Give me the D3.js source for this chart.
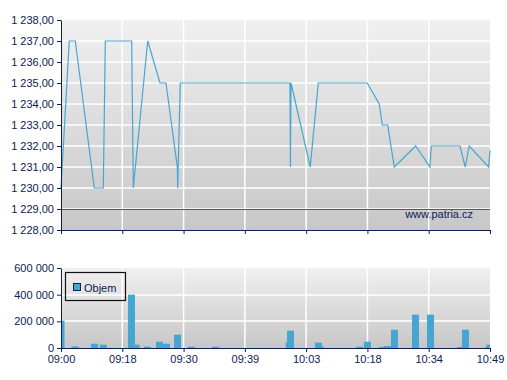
<!DOCTYPE html>
<html>
<head>
<meta charset="utf-8">
<script src="https://cdn.jsdelivr.net/npm/d3@7"></script>
<style>
	body { margin: 0; background: #fff; }
	text { font-family: "Liberation Sans", Arial, sans-serif; font-size: 11px; fill: #0c2152; }
	.axis path, .axis line { stroke: #0c2152; }
</style>
</head>
<body>
<div class="svg-container"></div>
<script>
// positions on the x axis are in tick slots (0 = first label, 7 = last label)
var tickLabels = ["09:00", "09:18", "09:30", "09:39", "10:03", "10:18", "10:34", "10:49"];

var pricePos = [0, 0.135, 0.233, 0.543, 0.69, 0.723, 1.153, 1.18, 1.415, 1.615, 1.713, 1.898, 1.904, 1.946,
	3.736, 3.744, 3.753, 4.067, 4.198, 4.997, 5.193, 5.242, 5.33, 5.438, 5.787, 6.02, 6.042, 6.51, 6.596, 6.661, 6.978, 7.0];
var priceVal = [1230, 1237, 1237, 1230, 1230, 1237, 1237, 1230, 1237, 1235, 1235, 1231, 1230, 1235,
	1235, 1231, 1235, 1231, 1235, 1235, 1234, 1233, 1233, 1231, 1232, 1231, 1232, 1232, 1231, 1232, 1231, 1231.8];

var volPos = [0, 0.228, 0.547, 0.69, 1.224, 1.15, 1.411, 1.607, 1.721, 1.901, 2.129, 2.521,
	3.723, 3.745, 4.201, 4.233, 4.87, 5.0, 5.245, 5.327, 5.441, 5.784, 6.029, 6.518, 6.6, 6.975, 7.0];
var volVal = [205000, 12000, 32000, 25000, 25000, 400000, 10000, 47000, 32000, 100000, 10000, 10000,
	40000, 130000, 40000, 10000, 10000, 47000, 8000, 15000, 137000, 250000, 250000, 8000, 137000, 8000, 25000];

var priceTicks = [1228, 1229, 1230, 1231, 1232, 1233, 1234, 1235, 1236, 1237, 1238];
var volTicks = [0, 200000, 400000, 600000];
var refLevel = 1229;

var pageWidth = 507,
	pageHeight = 380,
	left = 61,
	right = 490,
	top1 = 20, bottom1 = 230,		// price panel
	top2 = 268, bottom2 = 348,		// volume panel
	lineColor = "#47a6d1",
	barWidth = 7;

var locale = d3.formatLocale({decimal: ",", thousands: " ", grouping: [3], currency: ["", ""]});

function plot() {
	var svg = d3.select(".svg-container")
	.append("svg")
	.attr("width", pageWidth)
	.attr("height", pageHeight);

	var defs = svg.append("defs");
	var grad = defs.append("linearGradient")
	.attr("id", "bg")
	.attr("x1", 0).attr("y1", 0).attr("x2", 0).attr("y2", 1);
	grad.append("stop").attr("offset", "0%").attr("stop-color", "#f0f0f0");
	grad.append("stop").attr("offset", "100%").attr("stop-color", "#c7c7c7");

	defs.append("clipPath").attr("id", "clip2")
	.append("rect")
	.attr("x", left).attr("y", top2)
	.attr("width", right - left).attr("height", bottom2 - top2);

	var xScale = d3.scaleLinear().domain([0, 7]).range([left, right]);
	var yPrice = d3.scaleLinear().domain([1228, 1238]).range([bottom1, top1]);
	var yVol = d3.scaleLinear().domain([0, 600000]).range([bottom2, top2]);

	drawPanel(svg, xScale, yPrice, priceTicks, top1, bottom1);
	drawPanel(svg, xScale, yVol, volTicks, top2, bottom2);

	// reference line, snapped to the pixel grid so it stays crisp
	var refY = Math.round(yPrice(refLevel)) + 0.5;
	svg.append("line")
	.attr("x1", left).attr("x2", right)
	.attr("y1", refY).attr("y2", refY)
	.attr("stroke", "#e01e1e")
	.attr("stroke-width", 1)
	.attr("shape-rendering", "crispEdges");

	drawLine(svg, xScale, yPrice);
	drawBars(svg, xScale, yVol);

	// axes
	var yAxis1 = d3.axisLeft(yPrice).tickValues(priceTicks).tickSize(4).tickSizeOuter(0)
	.tickFormat(locale.format(",.2f"));
	svg.append("g").attr("class", "axis").attr("transform", "translate(" + left + ",0)").call(yAxis1);

	var xAxis1 = d3.axisBottom(xScale).tickValues(d3.range(8)).tickSize(4).tickSizeOuter(0).tickFormat("");
	svg.append("g").attr("class", "axis").attr("transform", "translate(0," + bottom1 + ")").call(xAxis1);

	var yAxis2 = d3.axisLeft(yVol).tickValues(volTicks).tickSize(4).tickSizeOuter(0)
	.tickFormat(locale.format(",.0f"));
	svg.append("g").attr("class", "axis").attr("transform", "translate(" + left + ",0)").call(yAxis2);

	var xAxis2 = d3.axisBottom(xScale).tickValues(d3.range(8)).tickSize(4).tickSizeOuter(0)
	.tickFormat(function(d) { return tickLabels[d]; });
	svg.append("g").attr("class", "axis").attr("transform", "translate(0," + bottom2 + ")").call(xAxis2);

	svg.selectAll(".axis text").style("font-size", "11px").attr("fill", "#0c2152");
	svg.selectAll(".axis").attr("font-family", null).attr("font-size", null);

	// watermark
	svg.append("text")
	.attr("x", 473).attr("y", 218)
	.attr("text-anchor", "end")
	.text("www.patria.cz");

	// legend
	svg.append("rect")
	.attr("x", 65.5).attr("y", 272.5)
	.attr("width", 60).attr("height", 28)
	.attr("fill", "none")
	.attr("stroke", "#111")
	.attr("stroke-width", 1.2);
	svg.append("rect")
	.attr("x", 73.5).attr("y", 283.5)
	.attr("width", 7).attr("height", 7)
	.attr("fill", lineColor)
	.attr("stroke", "#0c2152");
	svg.append("text")
	.attr("x", 84).attr("y", 292)
	.text("Objem");
}

function drawPanel(svg, x, y, ticks, top, bottom) {
	svg.append("rect")
	.attr("x", left).attr("y", top)
	.attr("width", right - left).attr("height", bottom - top)
	.attr("fill", "url(#bg)");

	svg.append("g").selectAll("line").data(ticks.slice(1, -1))
	.enter().append("line")
	.attr("x1", left).attr("x2", right)
	.attr("y1", function(d) { return Math.round(y(d)); })
	.attr("y2", function(d) { return Math.round(y(d)); })
	.attr("stroke", "#fff")
	.attr("stroke-width", 1.5);

	svg.append("g").selectAll("line").data(d3.range(1, 7))
	.enter().append("line")
	.attr("x1", function(d) { return x(d); })
	.attr("x2", function(d) { return x(d); })
	.attr("y1", top).attr("y2", bottom)
	.attr("stroke", "#fff")
	.attr("stroke-width", 1.5);
}

function drawLine(svg, x, y) {
	var data = pricePos.map(function(p, i) { return {pos: p, val: priceVal[i]}; });

	var line = d3.line()
	.x(function(d) { return x(d.pos); })
	.y(function(d) { return y(d.val); });

	svg.append("path")
	.datum(data)
	.attr("fill", "none")
	.attr("stroke", lineColor)
	.attr("stroke-width", 1.2)
	.attr("d", line);
}

function drawBars(svg, x, y) {
	var data = volPos.map(function(p, i) { return {pos: p, val: volVal[i]}; });
	// taller bars drawn last so they sit in front
	data.sort(function(a, b) { return a.val - b.val; });

	svg.append("g")
	.attr("clip-path", "url(#clip2)")
	.selectAll("rect").data(data)
	.enter().append("rect")
	.attr("x", function(d) { return x(d.pos) - barWidth / 2; })
	.attr("y", function(d) { return y(d.val); })
	.attr("width", barWidth)
	.attr("height", function(d) { return y(0) - y(d.val); })
	.attr("fill", lineColor);
}

plot();
</script>
</body>
</html>
